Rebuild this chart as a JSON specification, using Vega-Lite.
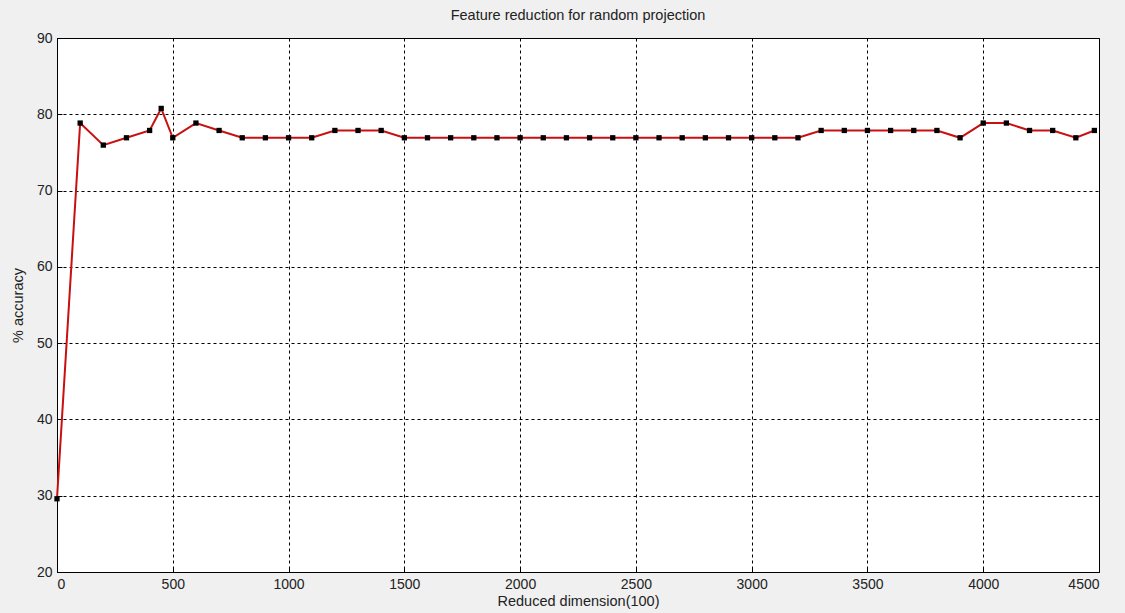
{
  "$schema": "https://vega.github.io/schema/vega-lite/v6.json",
  "autosize": {"type": "none"},
  "width": 1042,
  "height": 534,
  "padding": {"left": 57, "top": 38, "right": 26, "bottom": 41},
  "background": "#f0f0f0",
  "title": {
    "text": "Feature reduction for random projection",
    "fontSize": 14.5,
    "font": "Liberation Sans",
    "fontWeight": "normal",
    "color": "#222222",
    "offset": 8,
    "anchor": "middle"
  },
  "config": {
    "view": {"fill": "white", "stroke": "black", "strokeWidth": 1},
    "axis": {
      "labelFont": "Liberation Sans",
      "titleFont": "Liberation Sans",
      "labelFontSize": 14,
      "titleFontSize": 14.5,
      "titleFontWeight": "normal",
      "labelColor": "#222222",
      "titleColor": "#222222",
      "grid": true,
      "gridColor": "black",
      "gridDash": [3, 3],
      "gridOpacity": 1,
      "gridWidth": 1,
      "domainColor": "black",
      "ticks": true,
      "tickSize": -5,
      "tickColor": "black"
    }
  },
  "data": {
    "values": [
      {"dim": 0, "acc": 29.6},
      {"dim": 100, "acc": 78.85},
      {"dim": 200, "acc": 75.96},
      {"dim": 300, "acc": 76.92},
      {"dim": 400, "acc": 77.88},
      {"dim": 450, "acc": 80.77},
      {"dim": 500, "acc": 76.92},
      {"dim": 600, "acc": 78.85},
      {"dim": 700, "acc": 77.88},
      {"dim": 800, "acc": 76.92},
      {"dim": 900, "acc": 76.92},
      {"dim": 1000, "acc": 76.92},
      {"dim": 1100, "acc": 76.92},
      {"dim": 1200, "acc": 77.88},
      {"dim": 1300, "acc": 77.88},
      {"dim": 1400, "acc": 77.88},
      {"dim": 1500, "acc": 76.92},
      {"dim": 1600, "acc": 76.92},
      {"dim": 1700, "acc": 76.92},
      {"dim": 1800, "acc": 76.92},
      {"dim": 1900, "acc": 76.92},
      {"dim": 2000, "acc": 76.92},
      {"dim": 2100, "acc": 76.92},
      {"dim": 2200, "acc": 76.92},
      {"dim": 2300, "acc": 76.92},
      {"dim": 2400, "acc": 76.92},
      {"dim": 2500, "acc": 76.92},
      {"dim": 2600, "acc": 76.92},
      {"dim": 2700, "acc": 76.92},
      {"dim": 2800, "acc": 76.92},
      {"dim": 2900, "acc": 76.92},
      {"dim": 3000, "acc": 76.92},
      {"dim": 3100, "acc": 76.92},
      {"dim": 3200, "acc": 76.92},
      {"dim": 3300, "acc": 77.88},
      {"dim": 3400, "acc": 77.88},
      {"dim": 3500, "acc": 77.88},
      {"dim": 3600, "acc": 77.88},
      {"dim": 3700, "acc": 77.88},
      {"dim": 3800, "acc": 77.88},
      {"dim": 3900, "acc": 76.92},
      {"dim": 4000, "acc": 78.85},
      {"dim": 4100, "acc": 78.85},
      {"dim": 4200, "acc": 77.88},
      {"dim": 4300, "acc": 77.88},
      {"dim": 4400, "acc": 76.92},
      {"dim": 4480, "acc": 77.88}
    ]
  },
  "encoding": {
    "x": {
      "field": "dim",
      "type": "quantitative",
      "title": "Reduced dimension(100)",
      "scale": {"domain": [0, 4500], "nice": false, "zero": false},
      "axis": {"values": [0, 500, 1000, 1500, 2000, 2500, 3000, 3500, 4000, 4500], "format": "d", "labelPadding": 10, "titlePadding": 3}
    },
    "y": {
      "field": "acc",
      "type": "quantitative",
      "title": "% accuracy",
      "scale": {"domain": [20, 90], "nice": false, "zero": false},
      "axis": {"values": [20, 30, 40, 50, 60, 70, 80, 90], "labelPadding": 10, "titlePadding": 11}
    }
  },
  "layer": [
    {"mark": {"type": "line", "color": "#c81010", "strokeWidth": 2}},
    {"mark": {"type": "point", "shape": "square", "filled": true, "color": "black", "opacity": 1, "size": 28}}
  ]
}
